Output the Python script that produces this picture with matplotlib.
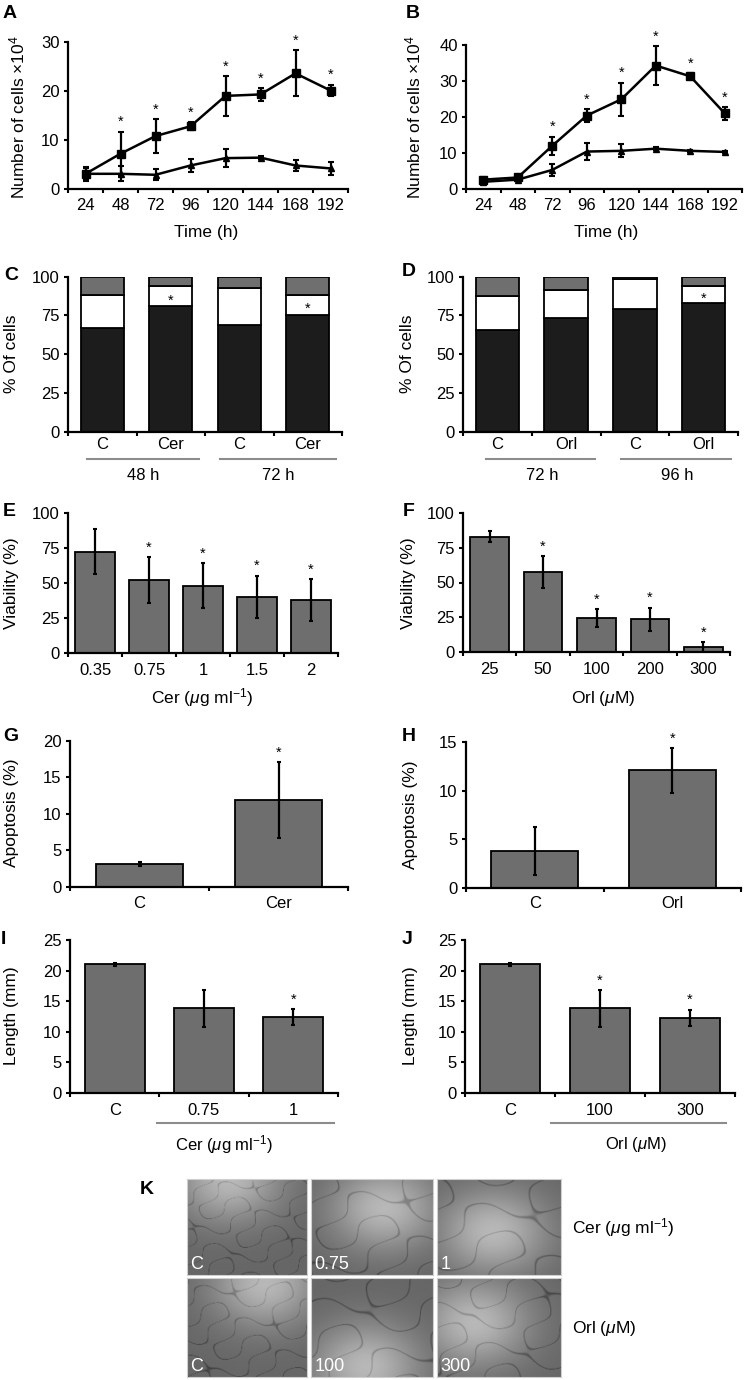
import numpy as np
import matplotlib
matplotlib.use('Agg')
import matplotlib.pyplot as plt
from matplotlib.transforms import blended_transform_factory

plt.rcParams['font.family'] = ['Liberation Sans', 'DejaVu Sans']
plt.rcParams['mathtext.fontset'] = 'custom'
plt.rcParams['mathtext.rm'] = 'Liberation Sans'
plt.rcParams['mathtext.it'] = 'Liberation Sans:italic'
plt.rcParams['font.size'] = 12

# ─── data ──────────────────────────────────────────────────────────────────
TIME_H = ['24', '48', '72', '96', '120', '144', '168', '192']

A_s1 = [3.1, 7.2, 10.8, 12.8, 19.0, 19.3, 23.6, 20.1]
A_s1_err = [1.4, 4.5, 3.4, 0.8, 4.0, 1.3, 4.7, 1.2]
A_s2 = [3.1, 3.1, 2.9, 4.8, 6.3, 6.4, 4.8, 4.2]
A_s2_err = [1.2, 1.5, 1.1, 1.3, 1.8, 0.3, 1.2, 1.4]
A_star = [False, True, True, True, True, True, True, True]

B_s1 = [2.6, 3.2, 12.0, 20.4, 24.9, 34.3, 31.3, 21.0]
B_s1_err = [0.8, 0.6, 2.5, 1.7, 4.6, 5.4, 0.8, 1.8]
B_s2 = [2.0, 2.6, 5.3, 10.4, 10.6, 11.2, 10.6, 10.3]
B_s2_err = [0.5, 0.5, 1.6, 2.3, 1.8, 0.5, 0.3, 0.3]
B_star = [False, False, True, True, True, True, True, True]

C_labels = ['C', 'Cer', 'C', 'Cer']
C_groups = ['48 h', '72 h']
C_black = [67.2, 81.1, 69.1, 75.6]
C_white = [21.3, 12.8, 23.7, 12.4]
C_gray = [11.5, 6.1, 7.2, 12.0]
C_star = [False, True, False, True]

D_labels = ['C', 'Orl', 'C', 'Orl']
D_groups = ['72 h', '96 h']
D_black = [65.4, 73.1, 79.0, 83.3]
D_white = [22.4, 18.4, 19.5, 10.9]
D_gray = [12.2, 8.5, 1.5, 5.8]
D_star = [False, False, False, True]

E_labels = ['0.35', '0.75', '1', '1.5', '2']
E_vals = [72.4, 52.1, 48.0, 40.2, 37.9]
E_err = [16.0, 16.5, 16.0, 15.0, 14.7]
E_star = [False, True, True, True, True]

F_labels = ['25', '50', '100', '200', '300']
F_vals = [83.0, 57.3, 24.5, 23.5, 3.8]
F_err = [4.0, 11.5, 6.5, 8.5, 3.5]
F_star = [False, True, True, True, True]

G_labels = ['C', 'Cer']
G_vals = [3.07, 11.9]
G_err = [0.25, 5.2]
G_star = [False, True]

H_labels = ['C', 'Orl']
H_vals = [3.8, 12.1]
H_err = [2.5, 2.3]
H_star = [False, True]

I_labels = ['C', '0.75', '1']
I_vals = [21.0, 13.8, 12.4]
I_err = [0.2, 3.0, 1.3]
I_star = [False, False, True]

J_labels = ['C', '100', '300']
J_vals = [21.0, 13.8, 12.3]
J_err = [0.2, 3.0, 1.3]
J_star = [False, True, True]

K_cer = ['C', '0.75', '1']
K_orl = ['C', '100', '300']

CER_UNIT = r'Cer ($\mathit{\mu}$g ml$^{-1}$)'
ORL_UNIT = r'Orl ($\mathit{\mu}$M)'

BAR_GRAY = '#6e6e6e'
STACK_BLACK = '#1c1c1c'
STACK_GRAY = '#6f6f6f'
TICK_FS = 12
LABEL_FS = 12.5

W, H = 746, 1380
fig = plt.figure(figsize=(W / 100, H / 100), dpi=100)
fig.patch.set_facecolor('white')


def px_axes(left, top, right, bottom):
    return fig.add_axes([left / W, 1 - bottom / H, (right - left) / W, (bottom - top) / H])


def fig_text(x, y, s, **kw):
    kw.setdefault('fontsize', LABEL_FS)
    fig.text(x / W, 1 - y / H, s, **kw)


def style(ax, labels, ylim, yticks, pad):
    n = len(labels)
    ax.set_xlim(-0.5, n - 0.5)
    ax.set_ylim(*ylim)
    ax.set_yticks(yticks)
    ax.set_xticks(np.arange(n))
    ax.set_xticklabels(labels)
    ax.set_xticks(np.arange(n + 1) - 0.5, minor=True)
    ax.tick_params(axis='x', which='major', length=0, pad=pad, labelsize=TICK_FS)
    ax.tick_params(axis='x', which='minor', length=3, width=1.5, direction='out')
    ax.tick_params(axis='y', length=3, width=1.5, direction='out', pad=3, labelsize=TICK_FS)
    for s in ['top', 'right']:
        ax.spines[s].set_visible(False)
    for s in ['left', 'bottom']:
        ax.spines[s].set_linewidth(1.6)


def stars(ax, xs, ys, flags, dy=4):
    for xi, yi, f in zip(xs, ys, flags):
        if f:
            ax.annotate('*', (xi, yi), xytext=(0, dy), textcoords='offset points',
                        ha='center', va='baseline', fontsize=10.5, annotation_clip=False)


def line_panel(ax, s1, e1, s2, e2, flags, ylim, yticks):
    x = np.arange(len(TIME_H))
    ax.errorbar(x, s1, yerr=e1, fmt='-s', color='k', ms=5.5, lw=1.8,
                elinewidth=1.6, capsize=2, capthick=1.5, clip_on=False, zorder=3)
    ax.errorbar(x, s2, yerr=e2, fmt='-^', color='k', ms=5, lw=1.8,
                elinewidth=1.6, capsize=2, capthick=1.5, clip_on=False, zorder=3)
    stars(ax, x, np.array(s1) + np.array(e1), flags)
    style(ax, TIME_H, ylim, yticks, pad=6.4)


def stack_panel(ax, labels, black, white, gray, flags):
    x = np.arange(len(labels))
    black, white, gray = map(np.array, (black, white, gray))
    kw = dict(width=0.63, edgecolor='k', linewidth=1.3)
    ax.bar(x, black, color=STACK_BLACK, **kw)
    ax.bar(x, white, bottom=black, color='white', **kw)
    ax.bar(x, gray, bottom=black + white, color=STACK_GRAY, **kw)
    stars(ax, x, black + white / 2, flags, dy=-6)
    style(ax, labels, (0, 100), [0, 25, 50, 75, 100], pad=3.7)


def bar_panel(ax, labels, vals, errs, flags, ylim, yticks, width, pad):
    x = np.arange(len(labels))
    ax.bar(x, vals, width=width, color=BAR_GRAY, edgecolor='k', linewidth=1.3,
           yerr=errs, error_kw=dict(ecolor='k', elinewidth=1.6, capsize=1.5, capthick=1.5))
    stars(ax, x, np.array(vals) + np.array(errs), flags)
    style(ax, labels, ylim, yticks, pad)


def group_lines(ax, spans, labels, text_x, y_line, y_text):
    tr = blended_transform_factory(ax.transData, fig.transFigure)
    for (x0, x1), lab, tx in zip(spans, labels, text_x):
        ax.plot([x0, x1], [1 - y_line / H] * 2, transform=tr, color='#8c8c8c',
                lw=1.5, clip_on=False)
        ax.text(tx, 1 - y_text / H, lab, transform=tr, ha='center', va='center',
                fontsize=TICK_FS)


# ── A / B: growth curves ────────────────────────────────────────────────────
axA = px_axes(68, 42, 348, 189)
line_panel(axA, A_s1, A_s1_err, A_s2, A_s2_err, A_star, (0, 30), [0, 10, 20, 30])
axB = px_axes(466, 45, 742, 189)
line_panel(axB, B_s1, B_s1_err, B_s2, B_s2_err, B_star, (0, 40), [0, 10, 20, 30, 40])
fig_text(206, 233, 'Time (h)', ha='center', va='center')
fig_text(606, 233, 'Time (h)', ha='center', va='center')
fig_text(17, 117, 'Number of cells ×10$^{4}$', rotation=90, ha='center', va='center')
fig_text(413, 117, 'Number of cells ×10$^{4}$', rotation=90, ha='center', va='center')

# ── C / D: cell cycle distribution ──────────────────────────────────────────
axC = px_axes(68, 276.7, 342, 431.7)
stack_panel(axC, C_labels, C_black, C_white, C_gray, C_star)
group_lines(axC, [(-0.22, 1.41), (1.72, 3.41)], C_groups, [0.6, 2.57], 459, 475)
axD = px_axes(463, 276.7, 738, 431.7)
stack_panel(axD, D_labels, D_black, D_white, D_gray, D_star)
group_lines(axD, [(-0.17, 1.42), (1.8, 3.4)], D_groups, [0.65, 2.62], 459, 475)
fig_text(12, 354, '% Of cells', rotation=90, ha='center', va='center')
fig_text(408, 354, '% Of cells', rotation=90, ha='center', va='center')

# ── E / F: viability ────────────────────────────────────────────────────────
axE = px_axes(68, 513, 338, 653)
bar_panel(axE, E_labels, E_vals, E_err, E_star, (0, 100), [0, 25, 50, 75, 100], 0.74, 7.1)
axF = px_axes(463, 513, 730, 652)
bar_panel(axF, F_labels, F_vals, F_err, F_star, (0, 100), [0, 25, 50, 75, 100], 0.72, 7.1)
fig_text(202, 698, CER_UNIT, ha='center', va='center')
fig_text(603, 698, ORL_UNIT, ha='center', va='center')
fig_text(12, 583, 'Viability (%)', rotation=90, ha='center', va='center')
fig_text(408, 583, 'Viability (%)', rotation=90, ha='center', va='center')

# ── G / H: apoptosis ────────────────────────────────────────────────────────
axG = px_axes(70, 740.7, 348, 886.7)
bar_panel(axG, G_labels, G_vals, G_err, G_star, (0, 20), [0, 5, 10, 15, 20], 0.62, 6.6)
axH = px_axes(466, 742.3, 741, 887.7)
bar_panel(axH, H_labels, H_vals, H_err, H_star, (0, 15), [0, 5, 10, 15], 0.63, 5.9)
fig_text(12, 813, 'Apoptosis (%)', rotation=90, ha='center', va='center')
fig_text(410, 815, 'Apoptosis (%)', rotation=90, ha='center', va='center')

# ── I / J: tube length ──────────────────────────────────────────────────────
axI = px_axes(70, 940, 338, 1092.7)
bar_panel(axI, I_labels, I_vals, I_err, I_star, (0, 25), [0, 5, 10, 15, 20, 25], 0.67, 7.1)
group_lines(axI, [(0.47, 2.46)], [CER_UNIT], [1.22], 1123, 1145)
axJ = px_axes(465, 940, 735, 1092.7)
bar_panel(axJ, J_labels, J_vals, J_err, J_star, (0, 25), [0, 5, 10, 15, 20, 25], 0.67, 7.1)
group_lines(axJ, [(0.46, 2.4)], [ORL_UNIT], [1.4], 1123, 1145)
fig_text(12, 1016, 'Length (mm)', rotation=90, ha='center', va='center')
fig_text(410, 1016, 'Length (mm)', rotation=90, ha='center', va='center')

# ── K: micrograph placeholders (smooth grey fields with a faint mesh) ───────
cols = [(187, 307), (311, 433), (437, 561)]
rows = [(1179, 1275), (1278, 1377)]
shade = [[(0.35, 0.0, 2.2), (0.6, 0.3, 1.4), (0.45, 0.55, 1.2)],
         [(0.65, 0.05, 2.0), (0.45, 0.9, 1.3), (0.3, 0.45, 1.6)]]
yy, xx = np.mgrid[0:1:120j, 0:1:150j]
for r, ((top, bot), labels) in enumerate(zip(rows, [K_cer, K_orl])):
    for c, ((left, right), lab) in enumerate(zip(cols, labels)):
        ax = px_axes(left, top, right, bot)
        cx, cy, mesh = shade[r][c]
        img = 0.40 + 0.32 * np.exp(-((xx - cx) ** 2 + (yy - cy) ** 2) / 0.2)
        f = 10 * mesh
        net = np.abs(np.sin(f * xx + 0.4 * f * yy + r + c) + np.sin(0.5 * f * xx - f * yy + 2 * c)
                     + np.sin(0.8 * f * yy + 0.6 * f * xx - r))
        img = img - 0.16 * np.exp(-(net / 0.1) ** 2)
        ax.imshow(img, cmap='gray', vmin=0, vmax=1, aspect='auto', interpolation='bilinear')
        ax.set_xticks([])
        ax.set_yticks([])
        for s in ax.spines.values():
            s.set_edgecolor('#cfcfcf')
            s.set_linewidth(0.8)
        ax.text(0.03, 0.02, lab, transform=ax.transAxes, color='white',
                fontsize=13, ha='left', va='bottom')
fig_text(572, 1228, CER_UNIT, ha='left', va='center')
fig_text(572, 1328, ORL_UNIT, ha='left', va='center')

# ── panel letters ───────────────────────────────────────────────────────────
for letter, x, y in [('A', 10, 14), ('B', 413, 13), ('C', 11, 275), ('D', 409, 272),
                     ('E', 9, 512), ('F', 409, 512), ('G', 11, 737), ('H', 409, 737),
                     ('I', 3, 940), ('J', 407, 940), ('K', 147, 1189)]:
    fig_text(x, y, letter, fontsize=14, fontweight='bold', ha='center', va='center')

fig.savefig('out.png', dpi=100, facecolor='white')
